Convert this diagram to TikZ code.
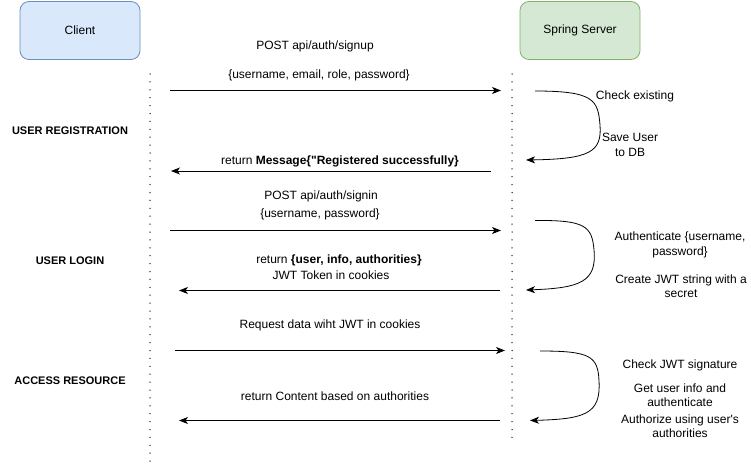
\documentclass[tikz,border=0pt]{standalone}
\usepackage{fontspec}
\setmainfont{Liberation Sans}[Ligatures=TeXOff]
\usetikzlibrary{arrows.meta}
\definecolor{cfill}{HTML}{DAE8FC}
\definecolor{cdraw}{HTML}{6C8EBF}
\definecolor{sfill}{HTML}{D5E8D4}
\definecolor{sdraw}{HTML}{82B366}
\tikzset{
  actor/.style={draw, rounded corners=9pt, minimum width=120pt, minimum height=58pt, line width=0.8pt, font=\fontsize{12}{14.5}\selectfont},
  lbl/.style={font=\fontsize{12}{14.5}\selectfont, align=center, inner sep=0pt},
  sec/.style={font=\bfseries\fontsize{11}{13}\selectfont, inner sep=0pt},
  life/.style={line width=1.5pt, line cap=round, dash pattern=on 0pt off 7.9pt, black!85},
  msg/.style={line width=0.8pt, -{Stealth[length=9pt,width=7pt,inset=2.5pt]}},
}
\begin{document}
\begin{tikzpicture}[x=1pt,y=-1pt]
\useasboundingbox (0,0) rectangle (751,463);
\node[actor, fill=cfill, draw=cdraw] (client) at (80,30.5) {Client};
\node[actor, fill=sfill, draw=sdraw] (server) at (580,30.5) {Spring Server};

\coordinate (cl1) at (150,74);
\coordinate (cl2) at (150,462);
\coordinate (sl1) at (512,74);
\coordinate (sl2) at (512,440);
\draw[life] (cl1) -- (cl2);
\draw[life] (sl1) -- (sl2);

% section labels
\node[sec] (s1) at (70,131) {USER REGISTRATION};
\node[sec] (s2) at (70,261) {USER LOGIN};
\node[sec] (s3) at (70,381) {ACCESS RESOURCE};

% registration
\node[lbl] (t1) at (315,46) {POST api/auth/signup};
\node[lbl] (t2) at (319,75) {\{username, email, role, password\}};
\coordinate (a1s) at (170,90.5);
\coordinate (a1e) at (501,90.5);
\draw[msg] (a1s) -- (a1e);
\coordinate (c1s) at (535,91);
\coordinate (c1e) at (526,160);
\draw[msg] (c1s) .. controls (594,91) and (598,100) .. (600,125) .. controls (602,152) and (590,159) .. (c1e);
\node[lbl] (t3) at (635,96) {Check existing};
\node[lbl] (t4) at (630,145) {Save User\\to DB};
\node[lbl] (t5) at (340,161) {return \textbf{Message\{"Registered successfully\}}};
\coordinate (a2s) at (491,171);
\coordinate (a2e) at (171,171);
\draw[msg] (a2s) -- (a2e);

% login
\node[lbl] (t6) at (321,196) {POST api/auth/signin};
\node[lbl] (t7) at (320,214) {\{username, password\}};
\coordinate (a3s) at (170,230.5);
\coordinate (a3e) at (501,230.5);
\draw[msg] (a3s) -- (a3e);
\coordinate (c2s) at (535,220.5);
\coordinate (c2e) at (526,290);
\draw[msg] (c2s) .. controls (585,220) and (592,226) .. (594,250) .. controls (597,282) and (580,288) .. (c2e);
\node[lbl] (t8) at (339,260) {return \textbf{\{user, info, authorities\}}};
\node[lbl] (t9) at (331,275) {JWT Token in cookies};
\node[lbl] (t10) at (680,245) {Authenticate \{username,\\password\}};
\node[lbl] (t11) at (681,286) {Create JWT string with a\\secret};
\coordinate (a4s) at (500,290.5);
\coordinate (a4e) at (179,290.5);
\draw[msg] (a4s) -- (a4e);

% access resource
\node[lbl] (t12) at (330,325) {Request data wiht JWT in cookies};
\coordinate (a5s) at (175,350.5);
\coordinate (a5e) at (505,350.5);
\draw[msg] (a5s) -- (a5e);
\coordinate (c3s) at (540,351);
\coordinate (c3e) at (530,420.5);
\draw[msg] (c3s) .. controls (590,351) and (598,356) .. (599,381) .. controls (601,414) and (585,419) .. (c3e);
\node[lbl] (t13) at (680,365) {Check JWT signature};
\node[lbl] (t14) at (680,395) {Get user info and\\authenticate};
\node[lbl] (t15) at (680,426) {Authorize using user's\\authorities};
\node[lbl] (t16) at (335,396) {return Content based on authorities};
\coordinate (a6s) at (500,420.5);
\coordinate (a6e) at (179,420.5);
\draw[msg] (a6s) -- (a6e);
\end{tikzpicture}
\end{document}
